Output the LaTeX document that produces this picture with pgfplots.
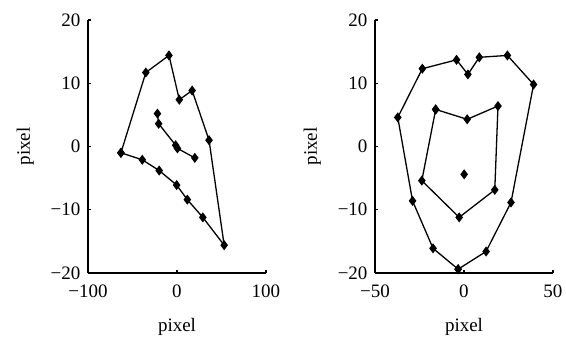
\documentclass[border=0pt]{standalone}
\usepackage{fontspec}
\setmainfont{Liberation Serif}
\usepackage{pgfplots}
\pgfplotsset{compat=1.18}
\pgfplotsset{
  myax/.style={
    scale only axis,
    width=178pt, height=253pt,
    axis lines=left,
    axis line style={-, line width=1.8pt},
    tick align=inside,
    major tick length=3pt,
    tick style={line width=1.2pt, black},
    ymin=-20, ymax=20,
    ytick={-20,-10,0,10,20},
    yticklabels={−20,−10,0,10,20},
    tick label style={font=\fontsize{19}{22}\selectfont},
    label style={font=\fontsize{19}{22}\selectfont},
    yticklabel style={xshift=-4pt},
    xticklabel style={yshift=-8pt},
    xlabel style={yshift=-14pt},
    ylabel style={yshift=10pt},
    xlabel={pixel}, ylabel={pixel},
    clip=false,
  },
  myplot/.style={black, line width=1.3pt, mark=diamond*, mark size=4pt, mark options={solid, fill=black}},
}
\begin{document}
\begin{tikzpicture}
\useasboundingbox (-88pt,-67pt) rectangle (478pt,273pt);
\begin{axis}[myax, xmin=-100, xmax=100, xtick={-100,0,100}, xticklabels={−100,0,100}]
\addplot[myplot] coordinates {(-63,-1) (-35,11.7) (-9,14.4) (2.6,7.4) (17,8.85) (36,1) (53,-15.6) (29,-11.2) (11.6,-8.4) (-0.4,-6.1) (-20,-3.8) (-39,-2.1) (-63,-1)};
\addplot[myplot] coordinates {(-22,5.2) (-20.6,3.6) (-1.5,0.2) (0.5,-0.3) (20,-1.8)};
\end{axis}
\begin{axis}[myax, xshift=287pt, xmin=-50, xmax=50, xtick={-50,0,50}, xticklabels={−50,0,50}]
\addplot[myplot] coordinates {(-3.3,-19.4) (-17.4,-16.1) (-28.9,-8.6) (-37.2,4.6) (-23.4,12.3) (-4.2,13.7) (2.2,11.4) (8.6,14.1) (24.4,14.4) (39.1,9.8) (26.4,-8.85) (12.4,-16.6) (-3.3,-19.4)};
\addplot[myplot] coordinates {(-15.9,5.86) (1.8,4.3) (19.1,6.4) (17.3,-6.85) (-2.7,-11.2) (-23.7,-5.4) (-15.9,5.86)};
\addplot[myplot, only marks] coordinates {(0.1,-4.4)};
\end{axis}
\end{tikzpicture}
\end{document}
